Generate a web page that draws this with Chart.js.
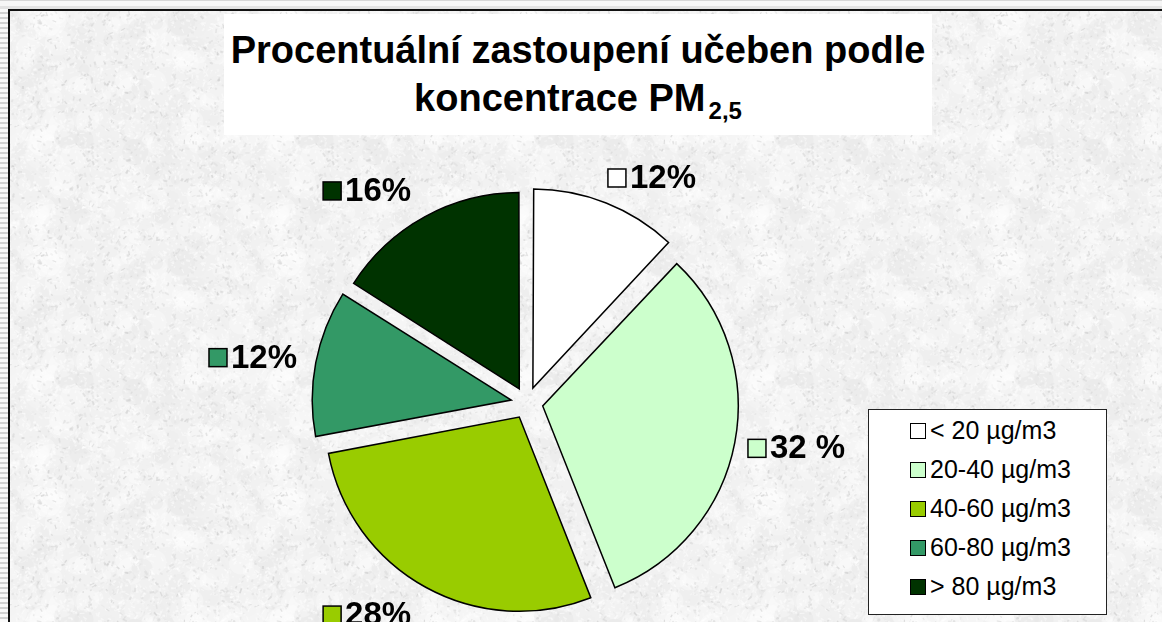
<!DOCTYPE html>
<html>
<head>
<meta charset="utf-8">
<title>Procentuální zastoupení učeben podle koncentrace PM2,5</title>
<script src="https://cdn.jsdelivr.net/npm/chart.js@4.4.1/dist/chart.umd.min.js"></script>
<style>
  html, body { margin: 0; padding: 0; }
  body {
    width: 1162px; height: 622px; position: relative; overflow: hidden;
    background: #e4e4e4;
    font-family: "Liberation Sans", Arial, sans-serif;
  }
  #strip-top {
    position: absolute; left: 0; top: 0; width: 1162px; height: 9px;
    background: linear-gradient(#d6d6d6 0 1px, #f6f6f6 1px 6px, #e2e2e2 6px);
  }
  #strip-left {
    position: absolute; left: 0; top: 9px; width: 8px; height: 613px;
    background: repeating-linear-gradient(#fafafa 0 3px, #d2d2d2 3px 5px);
  }
  #frame {
    position: absolute; left: 8px; top: 9px; right: 0; bottom: 0;
    border-left: 2px solid #111; border-top: 2px solid #111;
    background-color: #f1f1f1;
  }
  #chart-wrap { position: absolute; left: 0; top: 0; width: 1162px; height: 622px; }
  #title {
    position: absolute; left: 224px; top: 14px; width: 708px; height: 121px;
    box-sizing: border-box; padding-top: 12px;
    background: #fff; color: #000; text-align: center;
    font-weight: bold; font-size: 38px; line-height: 48px;
  }
  #title sub { font-size: 24px; line-height: 0; vertical-align: -8px; margin-left: 3px; }
  #legend {
    position: absolute; left: 868px; top: 409px; width: 239px; height: 206px;
    box-sizing: border-box; border: 1px solid #222; background: #fff;
    padding-top: 1px;
  }
  #legend .row {
    height: 39px; display: flex; align-items: center;
    padding-left: 41px; font-size: 25px; color: #000;
  }
  #legend .sw {
    width: 14px; height: 14px; border: 1px solid #000; margin-right: 4px; flex: none;
  }
</style>
</head>
<body>
<div id="strip-top"></div>
<div id="strip-left"></div>
<div id="frame"></div>
<div id="chart-wrap"><canvas id="pie"></canvas></div>
<div id="title">Procentuální zastoupení učeben podle<br>koncentrace PM<sub>2,5</sub></div>
<div id="legend"></div>

<script>
// data
const categories = ["< 20 µg/m3", "20-40 µg/m3", "40-60 µg/m3", "60-80 µg/m3", "> 80 µg/m3"];
const shares = [12, 32, 28, 12, 16];
const shareLabels = ["12%", "32 %", "28%", "12%", "16%"];
const sliceColors = ["#ffffff", "#ccffcc", "#99cc00", "#339966", "#003300"];

const FONT = '"Liberation Sans", Arial, sans-serif';

// granite-like paper texture for the background
function mulberry32(a) {
  return function () {
    a |= 0; a = a + 0x6D2B79F5 | 0;
    let t = Math.imul(a ^ a >>> 15, 1 | a);
    t = t + Math.imul(t ^ t >>> 7, 61 | t) ^ t;
    return ((t ^ t >>> 14) >>> 0) / 4294967296;
  };
}

function makeTexture() {
  const size = 240;
  const c = document.createElement("canvas");
  c.width = size; c.height = size;
  const g = c.getContext("2d");
  g.fillStyle = "#f1f1f1";
  g.fillRect(0, 0, size, size);
  const rnd = mulberry32(20240611);
  // soft cloudy blotches first, then fine speckles
  for (let i = 0; i < 260; i++) {
    const x = rnd() * size, y = rnd() * size, r = 4 + rnd() * 10;
    const v = rnd() < 0.5 ? 255 : 224 + Math.floor(rnd() * 18);
    for (const ox of [0, -size, size]) {
      for (const oy of [0, -size, size]) {
        g.fillStyle = `rgba(${v},${v},${v},0.3)`;
        g.beginPath();
        g.arc(x + ox, y + oy, r, 0, Math.PI * 2);
        g.fill();
      }
    }
  }
  for (let i = 0; i < 3600; i++) {
    const x = rnd() * size, y = rnd() * size;
    const a = rnd() * Math.PI, len = 1 + rnd() * 4;
    const dark = rnd() < 0.35;
    const v = dark ? 195 + Math.floor(rnd() * 35) : 255;
    g.strokeStyle = `rgba(${v},${v},${v},${0.25 + rnd() * 0.3})`;
    g.lineWidth = 1 + rnd() * 1.2;
    for (const ox of [0, -size, size]) {
      for (const oy of [0, -size, size]) {
        g.beginPath();
        g.moveTo(x + ox, y + oy);
        g.lineTo(x + ox + Math.cos(a) * len, y + oy + Math.sin(a) * len);
        g.stroke();
      }
    }
  }
  return c.toDataURL();
}

document.getElementById("frame").style.backgroundImage = `url(${makeTexture()})`;

// legend
const legend = document.getElementById("legend");
legend.innerHTML = categories.map((name, i) => `
  <div class="row"><span class="sw" style="background:${sliceColors[i]}"></span><span>${name.replace("<", "&lt;").replace(">", "&gt;")}</span></div>
`).join("");

// percentage labels outside each slice, with a small colour key in front
const sliceLabels = {
  id: "sliceLabels",
  afterDatasetsDraw(chart) {
    const ctx = chart.ctx;
    const meta = chart.getDatasetMeta(0);
    ctx.save();
    ctx.font = `bold 33px ${FONT}`;
    ctx.textBaseline = "middle";
    meta.data.forEach((arc, i) => {
      const p = arc.getProps(["x", "y", "startAngle", "endAngle", "outerRadius"], true);
      const mid = (p.startAngle + p.endAngle) / 2;
      const dx = Math.cos(mid), dy = Math.sin(mid);
      const d = p.outerRadius + 34;
      const ax = p.x + dx * d, ay = p.y + dy * d;
      const text = shareLabels[i];
      const box = 18, gap = 4, h = 28;
      const w = box + gap + ctx.measureText(text).width;
      const left = dx >= 0 ? ax - 3 : ax - w - 6;
      const cy = ay + dy * h / 2;
      ctx.fillStyle = sliceColors[i];
      ctx.fillRect(left, cy - box / 2, box, box);
      ctx.lineWidth = 1.5;
      ctx.strokeStyle = "#000";
      ctx.strokeRect(left, cy - box / 2, box, box);
      ctx.fillStyle = "#000";
      ctx.fillText(text, left + box + gap, cy + 1);
    });
    ctx.restore();
  }
};

new Chart(document.getElementById("pie"), {
  type: "pie",
  data: {
    labels: categories,
    datasets: [{
      data: shares,
      backgroundColor: sliceColors,
      borderColor: "#000",
      borderWidth: 1.5,
      borderJoinStyle: "miter",
      offset: 64, // Chart.js v4 draws a quarter of this: ~16px gap
      clip: false
    }]
  },
  options: {
    responsive: true,
    maintainAspectRatio: false,
    animation: false,
    events: [],
    radius: 194,
    layout: { padding: { left: 100, right: 208, top: 192, bottom: 8 } },
    plugins: {
      legend: { display: false },
      title: { display: false },
      tooltip: { enabled: false }
    }
  },
  plugins: [sliceLabels]
});
</script>
</body>
</html>
